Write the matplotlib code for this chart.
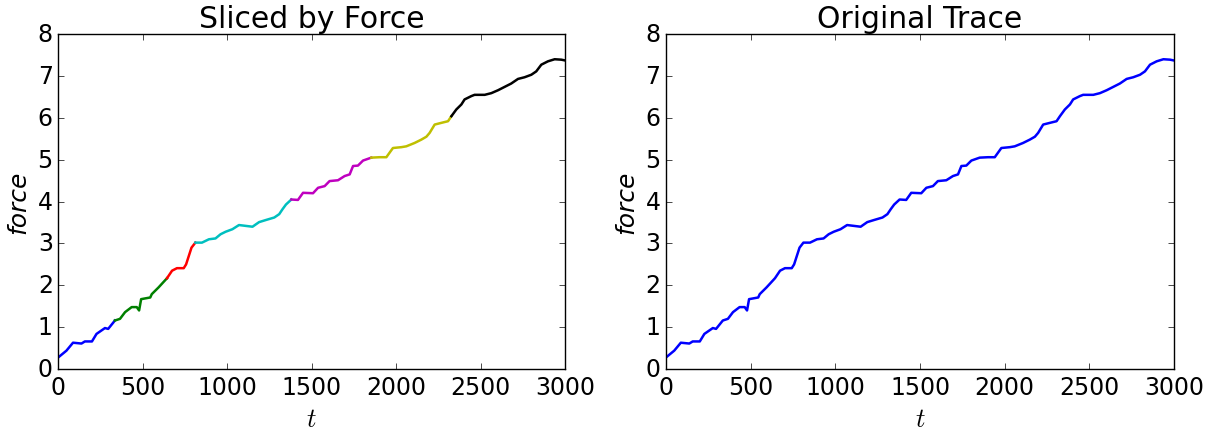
import numpy as np
import matplotlib
matplotlib.use('Agg')
import matplotlib.pyplot as plt

# trace (time step, force)
t_vals = [0, 48, 87, 137, 157, 199, 226, 276, 295, 335, 365, 395, 434, 464, 478,
          490, 544, 553, 593, 643, 673, 702, 742, 756, 772, 788, 811, 850, 891,
          930, 960, 990, 1030, 1069, 1109, 1149, 1188, 1228, 1278, 1307, 1327,
          1347, 1379, 1418, 1448, 1507, 1537, 1576, 1605, 1655, 1694, 1724, 1744,
          1773, 1803, 1852, 1901, 1941, 1980, 2030, 2059, 2108, 2148, 2178, 2197,
          2227, 2266, 2306, 2326, 2355, 2385, 2404, 2444, 2463, 2523, 2562, 2602,
          2641, 2680, 2720, 2759, 2799, 2828, 2858, 2897, 2937, 2976, 3000]
force_vals = [0.28, 0.44, 0.63, 0.61, 0.66, 0.66, 0.84, 0.98, 0.96, 1.16, 1.20,
              1.36, 1.48, 1.48, 1.40, 1.67, 1.71, 1.79, 1.95, 2.17, 2.35, 2.41,
              2.41, 2.50, 2.70, 2.90, 3.02, 3.02, 3.10, 3.12, 3.22, 3.28, 3.34,
              3.44, 3.42, 3.40, 3.51, 3.56, 3.62, 3.70, 3.82, 3.93, 4.05, 4.04,
              4.21, 4.20, 4.33, 4.37, 4.49, 4.51, 4.61, 4.65, 4.85, 4.86, 4.98,
              5.05, 5.06, 5.06, 5.28, 5.30, 5.32, 5.40, 5.48, 5.55, 5.64, 5.84,
              5.88, 5.92, 6.04, 6.20, 6.32, 6.44, 6.52, 6.55, 6.55, 6.59, 6.66,
              6.74, 6.82, 6.93, 6.97, 7.03, 7.11, 7.27, 7.35, 7.40, 7.39, 7.37]

# one colour per unit force band
band_colors = ['b', 'g', 'r', 'c', 'm', 'y', 'k']

plt.style.use('classic')
plt.rcParams['figure.facecolor'] = 'white'
plt.rcParams['savefig.facecolor'] = 'white'

t = np.array(t_vals)
f = np.array(force_vals)
band = np.minimum(np.floor(f).astype(int), len(band_colors) - 1)

fig = plt.figure(figsize=(12.1, 4.39), dpi=100)
ax1 = fig.add_axes([0.0482, 0.157, 0.4190, 0.763])
ax2 = fig.add_axes([0.5505, 0.157, 0.4198, 0.763])

# left: slice the trace into runs of equal force band
start = 0
for i in range(1, len(t) + 1):
    if i == len(t) or band[i] != band[start]:
        stop = min(i + 1, len(t))
        ax1.plot(t[start:stop], f[start:stop], color=band_colors[band[start]], lw=1.8)
        start = i

# right: the whole trace
ax2.plot(t, f, color='b', lw=1.8)

for ax, title in [(ax1, 'Sliced by Force'), (ax2, 'Original Trace')]:
    ax.set_xlim(0, 3000)
    ax.set_ylim(0, 8)
    ax.set_xticks([0, 500, 1000, 1500, 2000, 2500, 3000])
    ax.set_yticks(range(9))
    ax.tick_params(labelsize=17, direction='in', top=True, right=True)
    ax.set_title(title, fontsize=21.5)
    ax.set_xlabel('$t$', fontsize=19)
    ax.set_ylabel('force', fontsize=18, style='italic')

fig.savefig('out.png', dpi=100)
